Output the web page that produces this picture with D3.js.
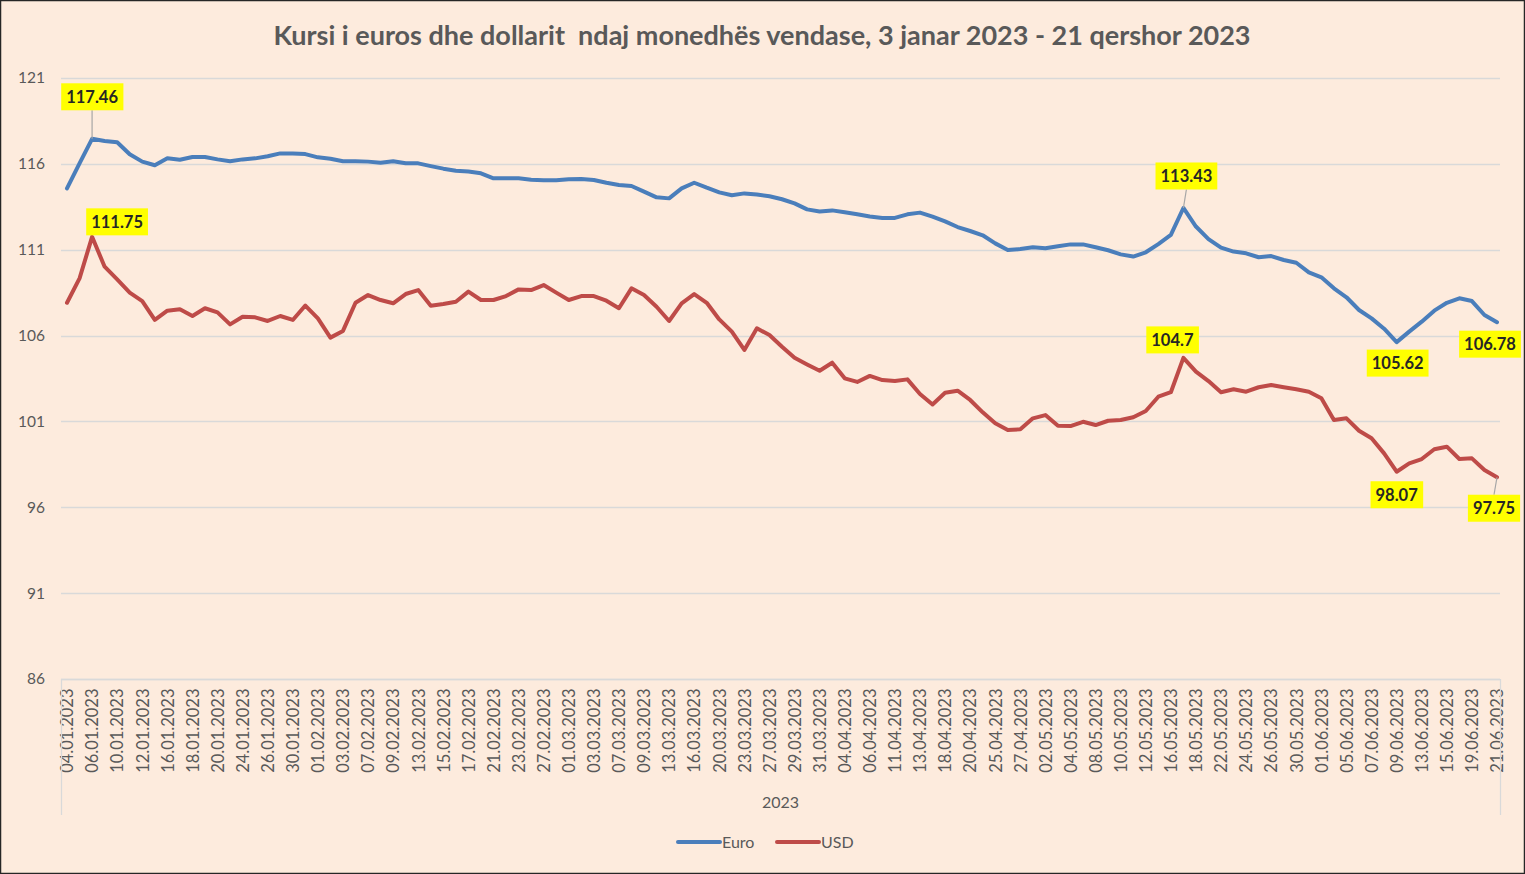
<!DOCTYPE html>
<html>
<head>
<meta charset="utf-8">
<script src="https://cdn.jsdelivr.net/npm/d3@7"></script>
<style>
  html, body { margin: 0; padding: 0; background: #fdebdd; }
  svg { display: block; }
</style>
</head>
<body>
<svg id="chart" width="1525" height="874"></svg>
<script>
// ---- Data ----
const dates = [
  "04.01.2023","05.01.2023","06.01.2023","09.01.2023","10.01.2023","11.01.2023","12.01.2023","13.01.2023",
  "16.01.2023","17.01.2023","18.01.2023","19.01.2023","20.01.2023","23.01.2023","24.01.2023","25.01.2023",
  "26.01.2023","27.01.2023","30.01.2023","31.01.2023",
  "01.02.2023","02.02.2023","03.02.2023","06.02.2023","07.02.2023","08.02.2023","09.02.2023","10.02.2023",
  "13.02.2023","14.02.2023","15.02.2023","16.02.2023","17.02.2023","20.02.2023","21.02.2023","22.02.2023",
  "23.02.2023","24.02.2023","27.02.2023","28.02.2023",
  "01.03.2023","02.03.2023","03.03.2023","06.03.2023","07.03.2023","08.03.2023","09.03.2023","10.03.2023",
  "13.03.2023","15.03.2023","16.03.2023","17.03.2023","20.03.2023","21.03.2023","23.03.2023","24.03.2023",
  "27.03.2023","28.03.2023","29.03.2023","30.03.2023","31.03.2023",
  "03.04.2023","04.04.2023","05.04.2023","06.04.2023","07.04.2023","11.04.2023","12.04.2023","13.04.2023",
  "14.04.2023","18.04.2023","19.04.2023","20.04.2023","24.04.2023","25.04.2023","26.04.2023","27.04.2023",
  "28.04.2023",
  "02.05.2023","03.05.2023","04.05.2023","05.05.2023","08.05.2023","09.05.2023","10.05.2023","11.05.2023",
  "12.05.2023","15.05.2023","16.05.2023","17.05.2023","18.05.2023","19.05.2023","22.05.2023","23.05.2023",
  "24.05.2023","25.05.2023","26.05.2023","29.05.2023","30.05.2023","31.05.2023",
  "01.06.2023","02.06.2023","05.06.2023","06.06.2023","07.06.2023","08.06.2023","09.06.2023","12.06.2023",
  "13.06.2023","14.06.2023","15.06.2023","16.06.2023","19.06.2023","20.06.2023","21.06.2023"
];

const euro = [
  114.57,116.03,117.46,117.33,117.26,116.56,116.13,115.92,116.32,116.24,
  116.40,116.40,116.26,116.15,116.26,116.32,116.44,116.61,116.61,116.57,
  116.38,116.30,116.15,116.15,116.13,116.07,116.15,116.03,116.03,115.87,
  115.72,115.60,115.55,115.45,115.16,115.16,115.16,115.08,115.05,115.04,
  115.10,115.12,115.06,114.90,114.77,114.71,114.38,114.05,113.99,114.57,
  114.90,114.61,114.34,114.17,114.28,114.22,114.11,113.94,113.70,113.35,
  113.23,113.29,113.18,113.06,112.94,112.85,112.85,113.06,113.16,112.93,
  112.65,112.32,112.09,111.84,111.37,110.98,111.04,111.14,111.08,111.20,
  111.31,111.31,111.14,110.97,110.73,110.60,110.85,111.33,111.86,113.43,
  112.35,111.62,111.12,110.89,110.79,110.56,110.63,110.40,110.24,109.68,
  109.39,108.75,108.23,107.49,107.00,106.40,105.62,106.23,106.81,107.45,
  107.91,108.17,108.01,107.20,106.78
];

const usd = [
  107.91,109.33,111.75,110.01,109.27,108.50,108.01,106.91,107.45,107.53,
  107.14,107.59,107.35,106.65,107.10,107.06,106.85,107.14,106.91,107.75,
  107.00,105.88,106.27,107.91,108.36,108.07,107.88,108.42,108.65,107.74,
  107.84,107.97,108.56,108.07,108.07,108.30,108.69,108.65,108.94,108.50,
  108.07,108.30,108.30,108.03,107.59,108.75,108.36,107.68,106.85,107.88,
  108.42,107.91,106.94,106.23,105.16,106.42,106.03,105.35,104.71,104.32,
  103.95,104.42,103.51,103.30,103.65,103.41,103.35,103.45,102.60,101.99,
  102.67,102.79,102.25,101.53,100.89,100.50,100.54,101.18,101.37,100.75,
  100.73,100.98,100.79,101.04,101.08,101.24,101.61,102.44,102.70,104.70,
  103.90,103.35,102.70,102.87,102.73,102.99,103.12,102.99,102.87,102.73,
  102.35,101.08,101.18,100.46,100.02,99.14,98.07,98.56,98.81,99.38,
  99.53,98.81,98.85,98.17,97.75
];

const yTicks = [86, 91, 96, 101, 106, 111, 116, 121];
const seriesNames = ["Euro", "USD"];
const groupLabel = "2023";
const title = "Kursi i euros dhe dollarit  ndaj monedhës vendase, 3 janar 2023 - 21 qershor 2023";

// Data labels: [series, index]
const labelPoints = [
  ["Euro", 2], ["Euro", 89], ["Euro", 106], ["Euro", 114],
  ["USD", 2], ["USD", 89], ["USD", 106], ["USD", 114]
];

// ---- Styles ----
const colors = { Euro: "#4a7ebb", USD: "#be4b48" };
const textColor = "#595959";
const gridColor = "#d9d9d9";
const font = "Lato, 'Open Sans', sans-serif";

const svg = d3.select("#chart");
const W = 1525, H = 874;

svg.append("rect").attr("x", 0.5).attr("y", 0.5).attr("width", W - 1).attr("height", H - 1)
  .attr("fill", "#fdebdd").attr("stroke", "#262626").attr("stroke-width", 1.5);

const plotLeft = 61, plotRight = 1500;
const x = d3.scalePoint().domain(dates).range([67, 1497]);
const y = d3.scaleLinear().domain([86, 121]).range([679, 78]);

// Title
svg.append("text").attr("x", 762).attr("y", 45).attr("text-anchor", "middle")
  .attr("font-family", font).attr("font-size", 27).attr("font-weight", "bold")
  .attr("fill", textColor).attr("xml:space", "preserve").text(title);

// Gridlines
svg.append("g").selectAll("line").data(yTicks).join("line")
  .attr("x1", plotLeft).attr("x2", plotRight)
  .attr("y1", d => Math.round(y(d)) + 0.5).attr("y2", d => Math.round(y(d)) + 0.5)
  .attr("stroke", gridColor).attr("stroke-width", 1.3);

// Y axis
const yAxis = svg.append("g").attr("transform", `translate(${plotLeft},0)`)
  .call(d3.axisLeft(y).tickValues(yTicks).tickSize(0).tickPadding(16).tickFormat(d3.format("d")));
yAxis.select(".domain").remove();
yAxis.selectAll("text").attr("font-family", font).attr("font-size", 15.5).attr("fill", textColor);

// X axis
const labelDates = dates.filter((d, i) => i % 2 === 0);
const xAxis = svg.append("g").attr("transform", `translate(0,${Math.round(y(86)) + 0.5})`)
  .call(d3.axisBottom(x).tickValues(labelDates).tickSize(0).tickPadding(0));
xAxis.select(".domain").attr("stroke", gridColor).attr("stroke-width", 1.3)
  .attr("d", `M${plotLeft},0H${plotRight}`);
xAxis.selectAll("text")
  .attr("font-family", font).attr("font-size", 16.5).attr("fill", textColor)
  .attr("text-anchor", "end").attr("dy", "0.35em")
  .attr("transform", "translate(0,9) rotate(-90)").attr("x", 0).attr("y", 0);

// Category group lines
[plotLeft, plotRight].forEach(xx => {
  svg.append("line").attr("x1", xx + 0.5).attr("x2", xx + 0.5)
    .attr("y1", y(86)).attr("y2", 815).attr("stroke", gridColor).attr("stroke-width", 1.3);
});
svg.append("text").attr("x", (plotLeft + plotRight) / 2).attr("y", 808)
  .attr("text-anchor", "middle").attr("font-family", font).attr("font-size", 16)
  .attr("fill", textColor).text(groupLabel);

// Lines
const seriesData = { Euro: euro, USD: usd };
const line = d3.line().x((d, i) => x(dates[i])).y(d => y(d));
seriesNames.forEach(name => {
  svg.append("path").datum(seriesData[name]).attr("d", line)
    .attr("fill", "none").attr("stroke", colors[name]).attr("stroke-width", 4)
    .attr("stroke-linejoin", "round").attr("stroke-linecap", "round");
});

// Data labels (offsets are layout only)
const labelOffsets = {
  "Euro-2": [0, -42, true], "Euro-89": [3, -32, true], "Euro-106": [1, 21, false], "Euro-114": [-7, 22, false],
  "USD-2": [25, -15, false], "USD-89": [-11, -18, false], "USD-106": [0, 23, false], "USD-114": [-3, 31, true]
};
const fmt = v => String(+v.toFixed(2));
labelPoints.forEach(([name, i]) => {
  const v = seriesData[name][i];
  const px = x(dates[i]), py = y(v);
  const [dx, dy, leader] = labelOffsets[name + "-" + i];
  const cx = px + dx, cy = py + dy;
  const g = svg.append("g");
  const t = g.append("text").attr("x", cx).attr("y", cy).attr("text-anchor", "middle")
    .attr("dy", "0.36em").attr("font-family", font).attr("font-size", 16.5).attr("font-weight", "bold")
    .attr("fill", "#262626").text(fmt(v));
  const bb = t.node().getBBox();
  const padX = 5;
  const bh = 27;
  if (leader) {
    const ey = dy < 0 ? cy + bh / 2 : cy - bh / 2;
    g.insert("line", "text").attr("x1", px).attr("y1", py).attr("x2", cx).attr("y2", ey)
      .attr("stroke", "#a6a6a6").attr("stroke-width", 1.2);
  }
  g.insert("rect", "text").attr("x", bb.x - padX).attr("y", cy - bh / 2)
    .attr("width", bb.width + padX * 2).attr("height", bh).attr("fill", "#ffff00");
});

// Legend
const legend = svg.append("g");
const legendItems = [{ name: "Euro", x: 678 }, { name: "USD", x: 777 }];
legendItems.forEach(it => {
  legend.append("line").attr("x1", it.x).attr("x2", it.x + 42).attr("y1", 842).attr("y2", 842)
    .attr("stroke", colors[it.name]).attr("stroke-width", 4).attr("stroke-linecap", "round");
  legend.append("text").attr("x", it.x + 44).attr("y", 842).attr("dy", "0.35em")
    .attr("font-family", font).attr("font-size", 16).attr("fill", textColor).text(it.name);
});
</script>
</body>
</html>
